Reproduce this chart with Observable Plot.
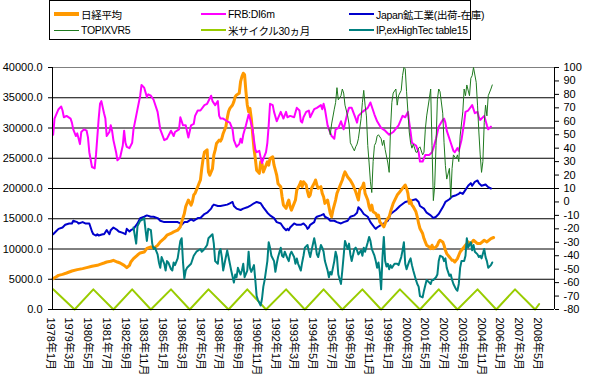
<!DOCTYPE html>
<html><head><meta charset="utf-8">
<script src="https://cdn.jsdelivr.net/npm/d3@7"></script>
<script src="https://cdn.jsdelivr.net/npm/@observablehq/plot@0.6"></script>
<style>
body{margin:0;background:#fff;}
#wrap{position:relative;width:592px;height:384px;overflow:hidden;}
#wrap svg{display:block;}
#legend{position:absolute;left:49px;top:0;width:420px;height:38px;border:1px solid #000;background:#fff;
 font:10.5px "Liberation Sans","Noto Sans CJK JP",sans-serif;color:#000;letter-spacing:-0.3px;}
.item{position:absolute;display:flex;align-items:center;height:16px;white-space:nowrap;}
.sw{display:inline-block;width:25px;margin-right:2px;}
</style></head>
<body><div id="wrap"></div>
<script>
// ---- categories / ticks ----
const firstMonth = "1978-01";
const monthCount = 375; // 1978-01 .. 2009-03
const xTickLabels = ["1978年1月","1979年3月","1980年5月","1981年7月","1982年9月","1983年11月","1985年1月","1986年3月","1987年5月","1988年7月","1989年9月","1990年11月","1992年1月","1993年3月","1994年5月","1995年7月","1996年9月","1997年11月","1999年1月","2000年3月","2001年5月","2002年7月","2003年9月","2004年11月","2006年1月","2007年3月","2008年5月"];
const leftTicks = [0,5000,10000,15000,20000,25000,30000,35000,40000];
const rightTicks = [-80,-70,-60,-50,-40,-30,-20,-10,0,10,20,30,40,50,60,70,80,90,100];

// ---- series: [months since 1978-01, value] ----
// left axis
const nikkei = [[0,5100],[2,5360],[4,5640],[7,5810],[10,6030],[14,6360],[18,6590],[22,6760],[25,6920],[29,7140],[33,7300],[35,7470],[38,7690],[40,7850],[43,7970],[45,8130],[48,7850],[50,7690],[53,7300],[55,6920],[57,7300],[58,7850],[60,8400],[63,9000],[65,9350],[68,9500],[70,10100],[73,10340],[75,10100],[78,10600],[80,11170],[83,11740],[85,12280],[88,12570],[90,12830],[93,13110],[95,13660],[96,14490],[98,15880],[99,17000],[100,17560],[101,18090],[103,17260],[104,17810],[105,18920],[106,19200],[108,20300],[109,20860],[110,21410],[111,23300],[112,24900],[113,26000],[115,26400],[116,22740],[117,22190],[119,23290],[120,25510],[121,26340],[122,27440],[124,28000],[125,27830],[126,28270],[127,29100],[129,30210],[130,31590],[131,32700],[132,33250],[134,33810],[135,34360],[136,35190],[137,35470],[139,35740],[140,37680],[141,38510],[142,39060],[143,38790],[144,36000],[145,33810],[146,32700],[147,33250],[148,31590],[150,26610],[151,24950],[152,23000],[154,22500],[155,24400],[156,24120],[157,22740],[159,23850],[160,24400],[161,23850],[162,24950],[164,25230],[165,23850],[166,23020],[167,22190],[168,20800],[170,20300],[171,18640],[172,17260],[174,16710],[175,17540],[176,18090],[177,16980],[178,16430],[180,17540],[181,18090],[182,19750],[184,20580],[185,21130],[186,20300],[187,21130],[189,20580],[190,19470],[191,18640],[192,18920],[193,20030],[195,20860],[196,21410],[197,20580],[198,20030],[200,20300],[201,19200],[202,18640],[203,17540],[205,18090],[206,16980],[207,15880],[208,15320],[209,16430],[211,18090],[212,19200],[213,19750],[215,20860],[216,21410],[217,22190],[218,22740],[220,21910],[222,21360],[224,20580],[226,19470],[228,18090],[229,19750],[231,20300],[232,20900],[233,19200],[235,18090],[236,16980],[237,16430],[238,17260],[239,16150],[241,15880],[242,15320],[243,15600],[244,14490],[246,13940],[247,13660],[248,14220],[249,14770],[251,15320],[252,16150],[254,17540],[257,18920],[259,19470],[262,20300],[263,20580],[264,20030],[265,19200],[266,17540],[267,18090],[268,17260],[269,16980],[271,16150],[272,15320],[273,14220],[274,13390],[276,12560],[277,11730],[278,11170],[279,10620],[281,10340],[282,10070],[283,10620],[284,10070],[286,10340],[287,10620],[288,11170],[289,11450],[291,11170],[292,10620],[293,9790],[294,9240],[296,8680],[297,8410],[298,8130],[299,8130],[300,7850],[302,8410],[303,8960],[304,9510],[305,9790],[307,10340],[308,10620],[309,10900],[310,11170],[312,10900],[313,11170],[314,11450],[317,10900],[319,10900],[322,11450],[324,11170],[327,11730],[329,11900]];
// right axis
const frbDI6m = [[0,50],[1,62],[4,69],[6,71],[7,68],[8,63],[10,64],[13,62],[14,59],[15,54],[17,49],[18,51],[20,43],[21,52],[23,54],[25,53],[26,48],[27,37],[29,26],[31,25],[32,35],[34,62],[35,73],[36,75],[38,66],[39,62],[40,49],[42,52],[43,57],[44,53],[45,46],[47,37],[48,31],[50,33],[52,42],[53,53],[54,44],[55,41],[57,40],[59,44],[60,54],[63,69],[65,79],[66,87],[68,85],[70,78],[71,80],[73,79],[75,76],[78,67],[80,54],[83,46],[85,47],[88,53],[90,49],[91,52],[94,54],[95,63],[97,57],[99,57],[101,48],[103,57],[105,58],[106,64],[108,68],[110,68],[113,72],[115,73],[118,79],[119,75],[121,72],[123,75],[124,64],[125,62],[127,62],[130,60],[132,59],[134,54],[135,46],[137,41],[139,43],[140,47],[141,44],[142,50],[144,57],[146,65],[147,62],[149,54],[150,46],[151,39],[152,37],[154,38],[155,33],[156,29],[157,32],[159,37],[160,44],[161,57],[162,73],[164,72],[165,67],[167,60],[170,67],[172,62],[174,67],[175,63],[177,64],[180,63],[182,70],[184,68],[185,60],[186,59],[187,63],[189,67],[191,68],[192,63],[195,69],[197,70],[200,72],[201,69],[202,73],[203,69],[205,57],[206,54],[208,49],[210,47],[211,54],[213,55],[215,60],[217,54],[220,67],[221,70],[223,70],[226,62],[227,59],[228,64],[231,67],[235,70],[237,74],[240,65],[242,60],[245,55],[248,53],[251,50],[254,52],[258,57],[261,64],[263,63],[265,67],[266,59],[267,52],[268,44],[271,42],[273,37],[274,30],[276,30],[278,35],[281,35],[283,37],[284,40],[286,47],[288,56],[291,61],[292,62],[293,59],[294,53],[297,44],[299,38],[300,37],[302,40],[303,38],[304,42],[305,46],[307,59],[308,67],[310,68],[313,72],[315,66],[317,67],[318,63],[319,61],[322,64],[324,57],[325,54],[327,56]];
const japanShipInv = [[0,-24],[2,-22],[4,-20],[7,-19],[9,-17],[12,-16],[14,-16],[15,-14],[18,-15],[19,-16],[22,-15],[24,-16],[27,-16],[28,-19],[29,-22],[30,-24],[32,-25],[33,-24],[34,-25],[37,-24],[38,-24],[40,-21],[42,-24],[43,-21],[45,-19],[48,-21],[49,-22],[52,-23],[54,-24],[55,-20],[57,-22],[58,-21],[60,-20],[63,-16],[65,-12],[68,-11],[70,-10],[73,-11],[75,-11],[78,-12],[80,-14],[83,-15],[88,-15],[93,-15],[95,-16],[96,-17],[98,-15],[100,-15],[103,-13],[105,-14],[108,-12],[110,-12],[113,-9],[115,-8],[118,-5],[119,-3],[120,-2],[123,-3],[125,-3],[130,-2],[132,-1],[134,0],[135,-3],[137,-5],[140,-6],[142,-5],[145,-4],[147,-3],[150,-1],[152,0],[155,-1],[157,-4],[160,-8],[162,-10],[165,-12],[167,-15],[170,-16],[172,-19],[174,-21],[175,-20],[176,-21],[177,-19],[180,-16],[182,-17],[185,-17],[187,-16],[189,-18],[190,-20],[191,-19],[192,-17],[195,-15],[196,-12],[197,-11],[200,-10],[202,-9],[203,-11],[205,-12],[207,-14],[210,-14],[212,-15],[215,-16],[217,-15],[220,-14],[222,-11],[225,-10],[227,-8],[228,-4],[230,-6],[232,-9],[235,-11],[237,-15],[240,-19],[241,-20],[242,-19],[245,-17],[247,-16],[250,-14],[252,-9],[256,-6],[259,-3],[263,0],[267,1],[271,2],[273,0],[274,-3],[277,-5],[279,-8],[282,-10],[284,-12],[286,-11],[288,-9],[291,-4],[293,0],[296,2],[298,4],[301,5],[303,6],[304,7],[306,6],[308,9],[310,12],[312,14],[313,12],[315,15],[317,16],[318,14],[320,12],[323,13],[325,11],[327,10]];
const topixVR5 = [[206,55],[207,50],[208,58],[210,69],[211,74],[212,85],[213,76],[215,79],[216,84],[217,81],[218,72],[220,64],[221,58],[222,44],[223,42],[225,38],[226,41],[227,43],[228,47],[230,62],[231,74],[232,83],[233,72],[234,64],[235,42],[236,29],[237,15],[238,7],[239,30],[240,42],[241,44],[242,49],[243,50],[245,47],[246,42],[247,46],[248,39],[250,29],[251,22],[252,54],[253,74],[254,81],[256,84],[257,72],[258,79],[260,83],[261,94],[262,100],[263,99],[264,82],[265,67],[266,52],[267,44],[268,40],[269,43],[271,37],[272,37],[273,40],[274,41],[276,35],[277,37],[278,54],[279,64],[281,77],[282,84],[283,42],[284,1],[285,12],[286,42],[287,76],[288,84],[289,82],[291,66],[292,44],[293,27],[294,17],[296,25],[297,3],[298,25],[299,35],[301,32],[302,35],[303,30],[304,49],[306,67],[307,84],[308,79],[309,87],[311,79],[312,92],[313,94],[314,100],[316,89],[317,72],[318,52],[319,35],[320,22],[321,30],[322,59],[323,72],[324,64],[325,79],[327,84],[328,87]];
const usCycle30 = [[0,-65],[16,-80],[30,-65],[45,-80],[59,-65],[73,-80],[88,-65],[102,-80],[116,-65],[131,-80],[145,-65],[159,-80],[174,-65],[188,-80],[202,-65],[216,-80],[231,-65],[245,-80],[259,-65],[274,-80],[288,-65],[302,-80],[317,-65],[331,-80],[345,-65],[360,-80],[363,-76]];
const ipExHighTec = [[60,-19],[62,-31],[63,-18],[65,-14],[67,-13],[68,-12],[69,-21],[70,-29],[71,-20],[73,-21],[74,-31],[75,-35],[76,-34],[78,-39],[79,-45],[80,-49],[81,-41],[83,-46],[84,-51],[85,-44],[86,-45],[88,-50],[89,-51],[90,-45],[91,-47],[93,-42],[95,-29],[96,-27],[97,-45],[98,-57],[99,-51],[100,-49],[103,-46],[105,-40],[107,-37],[110,-35],[111,-37],[113,-35],[115,-32],[116,-27],[118,-25],[119,-24],[120,-31],[121,-44],[123,-46],[124,-37],[125,-35],[126,-41],[127,-51],[128,-46],[130,-36],[131,-41],[132,-46],[133,-51],[135,-60],[136,-54],[137,-56],[138,-49],[140,-54],[141,-51],[142,-46],[143,-56],[145,-51],[146,-37],[147,-49],[148,-52],[150,-47],[151,-58],[152,-70],[153,-73],[155,-77],[156,-72],[157,-63],[158,-58],[160,-44],[161,-30],[162,-34],[163,-40],[165,-44],[166,-52],[167,-46],[168,-41],[170,-34],[171,-40],[172,-41],[173,-37],[175,-42],[176,-44],[177,-39],[178,-37],[180,-41],[181,-46],[182,-42],[183,-46],[185,-51],[186,-45],[187,-40],[188,-34],[190,-32],[191,-37],[192,-41],[193,-36],[195,-27],[196,-32],[197,-39],[198,-41],[200,-32],[201,-34],[202,-37],[203,-44],[205,-51],[206,-56],[207,-52],[208,-54],[210,-44],[211,-37],[212,-41],[213,-54],[215,-61],[216,-51],[217,-40],[218,-29],[220,-35],[221,-31],[222,-39],[223,-44],[225,-35],[226,-34],[227,-36],[228,-39],[230,-36],[231,-40],[232,-34],[233,-37],[235,-30],[236,-26],[237,-29],[238,-35],[240,-40],[241,-44],[242,-49],[243,-45],[244,-52],[245,-65],[246,-41],[247,-26],[248,-44],[249,-48],[250,-46],[251,-50],[252,-47],[253,-49],[255,-46],[257,-46],[258,-47],[260,-41],[261,-36],[262,-30],[263,-46],[264,-50],[266,-44],[267,-42],[268,-47],[269,-51],[271,-58],[272,-61],[273,-63],[274,-70],[276,-71],[277,-66],[278,-62],[279,-58],[281,-60],[282,-61],[283,-58],[284,-58],[286,-56],[287,-54],[288,-44],[289,-40],[291,-41],[292,-44],[293,-42],[294,-49],[296,-55],[297,-54],[298,-58],[299,-61],[301,-65],[302,-66],[303,-61],[304,-49],[305,-44],[307,-44],[308,-40],[309,-27],[310,-34],[312,-30],[313,-36],[314,-32],[315,-37],[317,-39],[318,-41],[319,-40],[320,-42],[322,-35],[323,-41],[324,-44],[325,-49],[327,-47],[328,-45]];

const seriesNames = ["日経平均","FRB:DI6m","Japan鉱工業(出荷-在庫)","TOPIXVR5","米サイクル30ヵ月","IP,exHighTec table15"];
const seriesColors = ["#ff9900","#ff00ff","#0000cc","#1f7a1f","#99cc00","#008080"];
const seriesWidths = [3,2,2,1,2,2];

// ---- build ----
const leftMax = leftTicks[leftTicks.length-1];
const rMin = rightTicks[0], rMax = rightTicks[rightTicks.length-1];
const toLeft = v => (v - rMin) / (rMax - rMin) * leftMax;
const toRight = y => y / leftMax * (rMax - rMin) + rMin;
const rows = (arr, right) => arr.map(([m, v]) => ({x: m + 0.5, y: right ? toLeft(v) : v}));
const [y0, m0] = firstMonth.split("-").map(Number);
const xTicks = xTickLabels.map(s => {
  const [, yy, mm] = s.match(/(\d+)年(\d+)月/);
  return {x: (+yy - y0) * 12 + (+mm - m0) + 0.5, label: s};
});

const lineOpts = k => ({x: "x", y: "y", stroke: seriesColors[k], strokeWidth: seriesWidths[k], strokeLinejoin: "round"});

const chart = Plot.plot({
  width: 592, height: 384,
  marginLeft: 52, marginRight: 38, marginTop: 67, marginBottom: 75,
  style: {fontFamily: '"Liberation Sans","Noto Sans CJK JP",sans-serif', fontSize: "11px", color: "#000", background: "#fff"},
  x: {domain: [0, monthCount], axis: null},
  y: {domain: [0, leftMax]},
  marks: [
    Plot.ruleY(leftTicks.filter(v => v > 0 && v < leftMax), {stroke: "#000", strokeWidth: 1}),
    Plot.ruleY([leftMax], {stroke: "#808080", strokeWidth: 1}),
    Plot.line(rows(usCycle30, true), lineOpts(4)),
    Plot.line(rows(japanShipInv, true), lineOpts(2)),
    Plot.line(rows(nikkei, false), lineOpts(0)),
    Plot.line(rows(frbDI6m, true), lineOpts(1)),
    Plot.line(rows(topixVR5, true), lineOpts(3)),
    Plot.line(rows(ipExHighTec, true), lineOpts(5)),
    Plot.ruleX([0], {stroke: "#000"}),
    Plot.ruleX([monthCount], {stroke: "#000"}),
    Plot.ruleY([0], {stroke: "#000"}),
    Plot.axisY({anchor: "left", ticks: leftTicks, tickFormat: d => d.toFixed(1), tickSize: 4, tickPadding: 6, label: null}),
    Plot.axisY({anchor: "right", ticks: rightTicks.map(toLeft), tickFormat: d => String(Math.round(toRight(d))), tickSize: 4, tickPadding: 5, label: null}),
    Plot.text(xTicks, {x: "x", text: "label", frameAnchor: "bottom", rotate: 90, textAnchor: "start", lineAnchor: "middle", dy: 8, dx: -3})
  ]
});
const wrap = document.getElementById("wrap");
wrap.appendChild(chart);

// legend
const legend = document.createElement("div");
legend.id = "legend";
const pos = [[4,5],[151,5],[299,5],[4,21],[151,21],[299,21]];
seriesNames.forEach((name, k) => {
  const it = document.createElement("div");
  it.className = "item";
  it.style.left = pos[k][0] + "px";
  it.style.top = pos[k][1] + "px";
  const sw = document.createElement("span");
  sw.className = "sw";
  sw.style.height = (k === 0 ? 4 : seriesWidths[k]) + "px";
  sw.style.background = seriesColors[k];
  it.appendChild(sw);
  it.appendChild(document.createTextNode(name));
  legend.appendChild(it);
});
wrap.appendChild(legend);
</script>
</body></html>
